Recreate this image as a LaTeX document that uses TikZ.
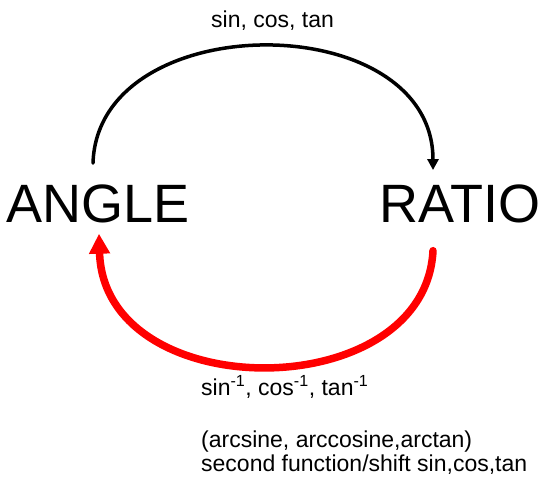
\documentclass[tikz,border=0pt]{standalone}
\usepackage{fontspec}
\setmainfont{Liberation Sans}
\usetikzlibrary{arrows.meta, positioning}

\begin{document}
\begin{tikzpicture}[x=1pt, y=1pt,
    word/.style={font=\fontsize{54}{60}\selectfont, inner sep=0pt, anchor=base west},
    label/.style={font=\fontsize{23}{24}\selectfont, inner sep=0pt, anchor=base west},
    fwd/.style={line width=3.5pt, line cap=round, -{Triangle[length=11pt, width=11pt]}},
    back/.style={line width=7.5pt, line cap=round, red, -{Triangle[length=20pt, width=20pt]}}]
    % Fix the frame of the picture
    \useasboundingbox (0,0) rectangle (540,481);

    % The two words
    \node[word] (angle) at (6,258) {ANGLE};
    \node[word] (ratio) at (379,258) {RATIO};

    % Arrow over the top
    \draw[fwd] ([shift={(87,22)}]angle.north west) .. controls +(5,157) and +(0,164) .. ([shift={(54,15)}]ratio.north west);

    % Arrow along the bottom
    \draw[back] ([shift={(54,-27)}]ratio.south west) .. controls +(-8,-156) and +(5,-173) .. ([shift={(93,-10)}]angle.south west);

    % The texts
    \node[label] (fn) at (211,453) {sin, cos, tan};
    \node[label] (inv) at (201,85) {sin\textsuperscript{-1}, cos\textsuperscript{-1}, tan\textsuperscript{-1}};
    \node[label] (arc) at (201,33) {(arcsine, arccosine,arctan)};
    \node[label] (shift) at (201,9) {second function/shift sin,cos,tan};
\end{tikzpicture}
\end{document}
